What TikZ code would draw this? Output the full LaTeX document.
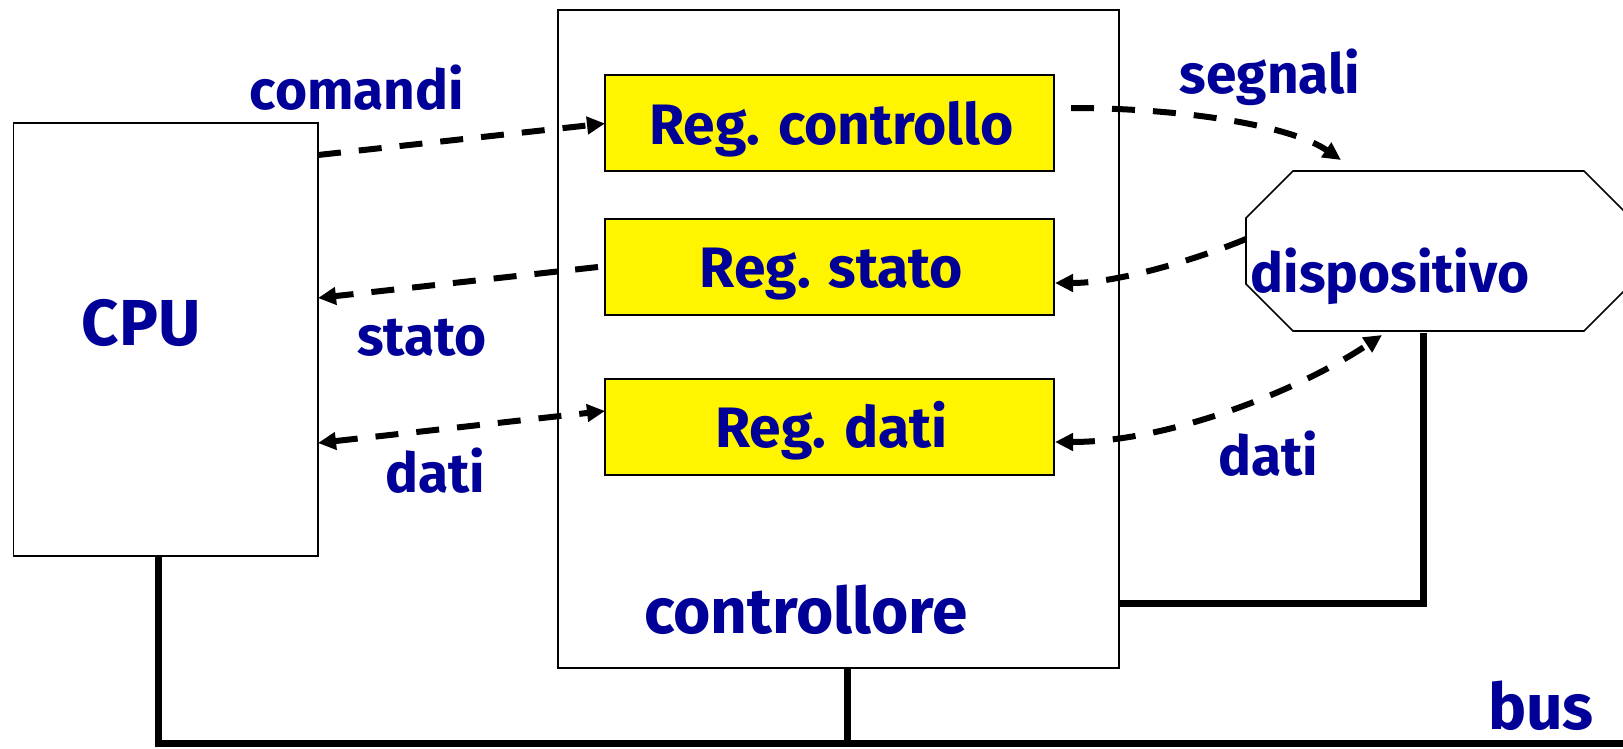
\documentclass[tikz,border=0pt]{standalone}
\usepackage{fontspec}
\setmainfont{Fira Sans}
\usetikzlibrary{arrows.meta,calc}
\definecolor{tblue}{RGB}{0,0,153}
\definecolor{ryellow}{RGB}{255,245,0}
\begin{document}
\begin{tikzpicture}[x=1pt,y=-1pt,
  >={Triangle[length=18pt,width=17pt]},
  box/.style={draw=black, line width=1.6pt, fill=white, inner sep=0pt, outer sep=0pt},
  regbox/.style={draw=black, line width=2pt, fill=ryellow, inner sep=0pt, outer sep=0pt, minimum width=449pt, minimum height=96pt},
  lbl/.style={text=tblue, inner sep=0pt, anchor=base, font=\bfseries\fontsize{55pt}{60pt}\selectfont},
  reglbl/.style={lbl, font=\bfseries\fontsize{57pt}{62pt}\selectfont},
  midlbl/.style={lbl, font=\bfseries\fontsize{64pt}{68pt}\selectfont},
  biglbl/.style={lbl, font=\bfseries\fontsize{65pt}{70pt}\selectfont},
  dasharr/.style={line width=6pt, dash pattern=on 23pt off 18pt},
  busline/.style={line width=7pt}]
\useasboundingbox (0,0) rectangle (1623,748);
\clip (0,0) rectangle (1623,748);
\fill[white] (0,0) rectangle (1623,748);

% boxes
\node[box, minimum width=304.5pt, minimum height=433pt] (cpu) at (165.75,339.5) {};
\node[box, minimum width=561pt, minimum height=658pt] (ctrl) at (838.5,339) {};
\node[regbox] (regc) at (829.5,122.5) {};
\node[regbox] (regs) at (829.5,267) {};
\node[regbox] (regd) at (829.5,427) {};

% dispositivo (octagon)
\node[inner sep=0pt, outer sep=0pt, minimum width=385pt, minimum height=160pt] (dev) at (1438.5,251) {};
\draw[line width=1.6pt, fill=white]
  ($(dev.north west)+(47,0)$) -- ($(dev.north east)+(-47,0)$) --
  ($(dev.north east)+(0,47)$) -- ($(dev.south east)+(0,-47)$) --
  ($(dev.south east)+(-47,0)$) -- ($(dev.south west)+(47,0)$) --
  ($(dev.south west)+(0,-47)$) -- ($(dev.north west)+(0,47)$) -- cycle;

% bus
\coordinate (busend) at (1623,743);
\draw[busline] ($(cpu.south)+(-7.75,0)$) |- (busend);
\draw[busline] ($(ctrl.south)+(8.5,0)$) -- ($(ctrl.south)+(8.5,75)$);
\draw[busline] ($(ctrl.east)+(0,264)$) -| ($(dev.south)+(-15.5,2)$);

% dashed connectors
\draw[dasharr, ->] ($(cpu.north east)+(0,32)$) -- ($(regc.west)+(0,1)$);
\draw[dasharr, ->] ($(regs.west)+(-7,0)$) -- ($(cpu.north east)+(0,175)$);
\draw[dasharr, <->] ($(cpu.north east)+(0,320)$) -- ($(regd.west)+(0,-16)$);
\draw[dasharr, ->] ($(regc.east)+(17,-14.5)$) .. controls (1180,108) and (1290,125) .. ($(dev.north west)+(95,-11)$);
\draw[dasharr, ->] ($(dev.west)+(0,-12)$) .. controls (1200,258) and (1120,283) .. ($(regs.east)+(1,16)$);
\draw[dasharr, <->] ($(regd.east)+(1,15)$) .. controls (1170,442) and (1300,390) .. ($(dev.south west)+(136,4)$);

% texts
\node[lbl] (tcom) at (357,109) {comandi};
\node[biglbl] (tcpu) at (141,345) {CPU};
\node[lbl] (tstl) at (422,355) {stato};
\node[lbl] (tdl) at (435,492) {dati};
\node[reglbl] (trc) at (831.5,144) {Reg. controllo};
\node[reglbl] (trs) at (831.5,287) {Reg. stato};
\node[reglbl] (trd) at (831.5,447) {Reg. dati};
\node[lbl] (tseg) at (1270,93) {segnali};
\node[lbl] (tdis) at (1390,292) {dispositivo};
\node[lbl] (tdr) at (1268,475) {dati};
\node[midlbl] (tctrl) at (806,633) {controllore};
\node[midlbl] (tbus) at (1541,729) {bus};
\end{tikzpicture}
\end{document}
